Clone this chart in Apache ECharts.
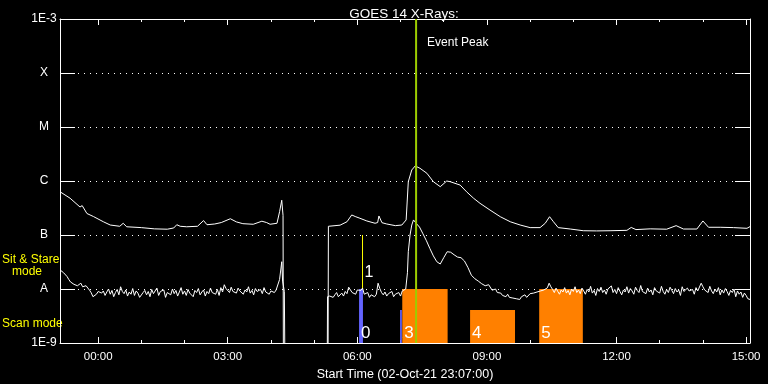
<!DOCTYPE html>
<html><head><meta charset="utf-8">
<style>html,body{margin:0;padding:0;background:#000;}#c{width:768px;height:384px;}</style>
<script src="https://cdn.jsdelivr.net/npm/echarts@6/dist/echarts.min.js"></script>
</head><body><div id="c"></div>
<script>
// ---- axis definitions (hours relative to 03-Oct-21 00:00; start 02-Oct-21 23:07) ----
const xMin = -0.8833, xMax = 15.09;
const xMajorHours = [0, 3, 6, 9, 12, 15];
const xMinorHours = [0, 1, 2, 3, 4, 5, 6, 7, 8, 9, 10, 11, 12, 13, 14, 15];
const yLevelLabels = ['1E-9', 'A', 'B', 'C', 'M', 'X', '1E-3']; // exponents -9 .. -3
const yMin = 1e-9, yMax = 1e-3;

// ---- GOES long channel (upper curve): [hour, flux W/m^2] ----
const upperChannel = [
  [-0.88,6.3e-7],[-0.65,4.8e-7],[-0.42,3.3e-7],[-0.37,3.5e-7],[-0.26,2.5e-7],[-0.11,2.2e-7],
  [0.12,1.76e-7],[0.28,1.53e-7],[0.5,1.45e-7],[0.58,1.65e-7],[0.66,1.42e-7],[1.0,1.37e-7],
  [1.3,1.3e-7],[1.6,1.28e-7],[1.75,1.35e-7],[1.82,1.55e-7],[1.9,1.45e-7],[2.05,1.42e-7],
  [2.3,1.45e-7],[2.44,1.85e-7],[2.52,1.55e-7],[2.7,1.6e-7],[2.85,1.7e-7],[3.06,2.0e-7],
  [3.2,1.75e-7],[3.35,1.62e-7],[3.59,1.58e-7],[3.79,1.8e-7],[3.9,1.7e-7],[3.98,1.58e-7],
  [4.14,1.65e-7],[4.2,2.7e-7],[4.25,4.4e-7],[4.28,2.3e-7],[4.29,1e-10],
  [5.32,1e-10],[5.33,1.45e-7],[5.6,1.52e-7],[5.76,1.76e-7],[5.87,2.35e-7],[5.95,2.2e-7],
  [6.06,2.04e-7],[6.22,1.82e-7],[6.41,1.65e-7],[6.47,1.7e-7],[6.5,2.25e-7],[6.57,1.69e-7],
  [6.68,1.6e-7],[6.88,1.49e-7],[7.03,1.53e-7],[7.13,1.9e-7],[7.18,9.7e-7],[7.26,1.6e-6],
  [7.34,1.9e-6],[7.45,1.72e-6],[7.61,1.39e-6],[7.76,9.7e-7],[7.92,7.85e-7],[8.07,1.0e-6],
  [8.15,9.7e-7],[8.38,8.4e-7],[8.53,6.3e-7],[8.69,4.8e-7],[8.84,3.86e-7],[9.07,2.9e-7],
  [9.31,2.18e-7],[9.54,1.76e-7],[9.77,1.53e-7],[10.0,1.37e-7],[10.23,1.37e-7],[10.35,1.65e-7],
  [10.45,2.18e-7],[10.54,1.76e-7],[10.65,1.37e-7],[10.93,1.29e-7],[11.23,1.2e-7],[11.54,1.19e-7],
  [11.85,1.2e-7],[12.24,1.22e-7],[12.34,1.38e-7],[12.45,1.26e-7],[12.78,1.3e-7],[13.16,1.28e-7],
  [13.38,1.49e-7],[13.55,1.29e-7],[13.86,1.29e-7],[14.0,1.82e-7],[14.13,1.39e-7],[14.4,1.39e-7],
  [14.71,1.37e-7],[15.02,1.33e-7],[15.09,1.43e-7]
];

// ---- GOES short channel (lower curve), values in units of 1e-8 W/m^2 ----
const lowerUnit = 1e-8;
const lowerStep = 0.04;
const lowerSeg1Start = -0.88;
const lowerSeg1 = [
  2.25,2.1,2.0,1.85,1.7,1.5,1.35,1.28,1.22,1.18,1.15,1.2,1.28,1.1,1.05,1.15,1.12,0.95,0.85,0.72,0.68,0.80,0.90,0.84,
  0.84,0.92,0.76,0.88,1.00,0.80,0.94,0.72,0.86,0.98,
  0.78,1.10,0.90,0.82,0.96,0.74,0.88,0.80,1.02,0.76,
  0.92,0.84,0.70,0.66,0.86,0.94,0.78,0.90,0.72,0.98,
  0.82,0.88,1.04,0.76,0.90,0.84,0.96,0.70,0.86,0.92,
  0.78,1.00,0.82,0.94,0.74,0.88,1.06,0.80,0.92,0.76,
  0.98,0.84,0.90,0.72,0.94,0.86,1.02,0.78,0.88,0.96,
  0.74,0.90,0.82,1.04,0.86,0.92,0.80,0.98,0.76,1.06,
  0.88,1.20,1.02,0.94,0.86,1.08,0.90,0.98,0.84,1.04,
  0.92,1.00,0.80,0.96,0.88,1.10,0.84,0.94,0.78,1.02,
  0.90,0.86,0.98,0.82,1.06,0.88,0.94,0.80,0.92,1.00,
  0.86,0.96,0.90
];
const lowerSpike = [[4.20,1.5],[4.25,3.2],[4.27,1.4],[4.31,0.9]];
const lowerGap = [4.33, 5.30];
const gapFlux = 1e-10;
const lowerSeg2Lead = [[5.31,0.72]];
const lowerSeg2aStart = 5.36;
const lowerSeg2a = [
  0.74,0.80,0.70,0.78,0.86,0.72,0.76,0.84,0.74,
  0.90,0.82,1.08,0.96,0.86,
  0.92,0.80,0.96,1.02,0.94,1.04,
  0.80,0.74,0.86,0.70,0.78,0.84,0.72,0.80,
  1.28,1.02,0.86,
  0.78,0.88,0.74,0.82,0.76,0.90,0.72,0.80,0.78,0.86,0.74,0.92,0.88
];
const lowerFlare = [
  [7.12,1.0],[7.16,2.0],[7.18,4.9],[7.22,10.0],[7.26,15.3],[7.30,19.0],[7.36,16.5],[7.44,14.0],
  [7.52,10.5],[7.60,7.8],[7.68,5.6],[7.76,4.1],[7.84,3.2],[7.92,2.9],[8.00,3.8],[8.08,4.9],
  [8.16,4.8],[8.24,4.3],[8.32,3.9],[8.40,3.8],[8.48,3.3],[8.56,2.5],[8.64,1.8],[8.72,1.55],
  [8.80,1.4],[8.88,1.25],[8.96,1.15],[9.04,1.2],[9.12,0.95],[9.20,1.0]
];
const lowerSeg2cStart = 9.24;
const lowerSeg2c = [
  0.86,0.80,0.84,0.76,0.78,0.72,0.80,0.70,0.74,0.68,0.72,0.66,0.70,0.64,
  0.72,0.68,0.78,0.70,0.74,0.82,0.76,0.84,0.80,0.88,0.84,0.92,0.86,0.96,0.90,
  1.05,1.28,1.10,
  0.98,0.86,1.04,0.90,0.80,0.96,0.88,1.06,0.84,0.94,
  0.78,1.00,0.90,1.10,0.86,0.96,0.82,1.04,0.92,0.80,
  0.98,0.88,1.12,0.84,0.94,0.76,1.02,0.90,1.08,0.86,
  0.96,0.80,1.00,0.92,1.14,0.86,0.98,0.82,1.06,0.90,
  0.78,0.96,0.88,1.10,0.84,1.02,0.92,0.80,1.08,0.94,
  0.86,1.16,0.90,0.98,0.82,1.04,0.88,0.96,0.78,1.06,
  0.92,1.00,0.84,1.12,0.90,0.80,0.98,0.86,1.08,0.94,
  0.82,1.02,0.88,0.96,0.76,1.10,0.90,0.84,1.04,0.92,
  0.86,0.98,0.80,1.06,0.92,1.00,1.28,1.10,0.96,1.04,
  0.86,1.12,0.92,0.82,1.00,0.88,1.06,0.78,0.96,0.84,
  1.02,0.90,0.76,0.94,0.86,1.00,0.72,0.92,0.80,0.88,
  0.70,0.84,0.76,0.66
];
const lowerTail = [[15.09,0.64]];

// ---- observation blocks ----
const obsStart = [6.04, 6.99, 7.04, 8.61, 10.21];
const obsEnd   = [6.13, 7.03, 8.09, 9.65, 11.22];
const obsTop   = [1e-8, 4.1e-9, 1e-8, 4.1e-9, 1e-8];
const obsLabel = ['0', '2', '3', '4', '5'];
const obsColor = ['#6464ff', '#6464ff', '#ff8000', '#ff8000', '#ff8000'];

// sit & stare marker "1"
const markHour = [6.12];
const markLow = [1e-8];
const markHigh = [1e-7];
const markLabel = ['1'];

// event peak
const eventPeakHour = [7.36];

// ---- build data ----
const lower = [];
const pushSeg = (start, vals) => vals.forEach((v, i) => lower.push([start + i * lowerStep, v * lowerUnit]));
const pushPairs = arr => arr.forEach(p => lower.push([p[0], p[1] * lowerUnit]));
pushSeg(lowerSeg1Start, lowerSeg1);
pushPairs(lowerSpike);
lower.push([lowerGap[0], gapFlux], [lowerGap[1], gapFlux]);
pushPairs(lowerSeg2Lead);
pushSeg(lowerSeg2aStart, lowerSeg2a);
pushPairs(lowerFlare);
pushSeg(lowerSeg2cStart, lowerSeg2c);
pushPairs(lowerTail);

const obsData = obsStart.map((s, i) => [s, obsEnd[i], obsTop[i]]);
const markData = markHour.map((h, i) => [h, markLow[i], markHigh[i]]);

const FONT = 'Liberation Sans';
const pad2 = n => (n < 10 ? '0' : '') + n;

const xBase = {
  type: 'value', min: xMin, max: xMax, gridIndex: 0,
  splitLine: { show: false }, axisPointer: { show: false }
};

const chart = echarts.init(document.getElementById('c'), null, { renderer: 'canvas' });
chart.setOption({
  backgroundColor: '#000',
  animation: false,
  title: {
    text: 'GOES 14 X-Rays:', left: 399, top: 2, textAlign: 'center',
    textStyle: { color: '#fff', fontFamily: FONT, fontSize: 13.5, fontWeight: 'normal' }
  },
  grid: { left: 60, right: 18, top: 19, bottom: 41, containLabel: false, outerBoundsMode: 'none' },
  xAxis: [
    Object.assign({}, xBase, {
      position: 'bottom',
      axisLine: { show: true, onZero: false, lineStyle: { color: '#fff', width: 1 } },
      axisTick: { show: true, inside: true, length: 6, customValues: xMajorHours, lineStyle: { color: '#fff' } },
      axisLabel: { show: true, customValues: xMajorHours, color: '#fff', fontFamily: FONT, fontSize: 11.5, margin: 8,
        formatter: v => pad2(Math.round(v)) + ':00' },
      name: 'Start Time (02-Oct-21 23:07:00)', nameLocation: 'middle', nameGap: 20,
      nameTextStyle: { color: '#fff', fontFamily: FONT, fontSize: 12.5 }
    }),
    Object.assign({}, xBase, {
      position: 'bottom',
      axisLine: { show: false, onZero: false },
      axisTick: { show: true, inside: true, length: 3, customValues: xMinorHours, lineStyle: { color: '#fff' } },
      axisLabel: { show: false }
    }),
    Object.assign({}, xBase, {
      position: 'top',
      axisLine: { show: true, onZero: false, lineStyle: { color: '#fff', width: 1 } },
      axisTick: { show: true, inside: true, length: 6, customValues: xMajorHours, lineStyle: { color: '#fff' } },
      axisLabel: { show: false }
    }),
    Object.assign({}, xBase, {
      position: 'top',
      axisLine: { show: false, onZero: false },
      axisTick: { show: true, inside: true, length: 3, customValues: xMinorHours, lineStyle: { color: '#fff' } },
      axisLabel: { show: false }
    })
  ],
  yAxis: [
    {
      type: 'log', logBase: 10, min: yMin, max: yMax, splitNumber: 6, position: 'left',
      axisLine: { show: true, onZero: false, lineStyle: { color: '#fff', width: 1 } },
      axisTick: { show: true, inside: true, length: 15, lineStyle: { color: '#fff' } },
      minorTick: { show: false },
      axisLabel: { color: '#fff', fontFamily: FONT, fontSize: 12, margin: 16, align: 'center',
        formatter: v => yLevelLabels[Math.round(Math.log10(v)) + 9] },
      splitLine: { show: true, lineStyle: { color: '#fff', width: 1, type: [1, 5] } }
    },
    {
      type: 'log', logBase: 10, min: yMin, max: yMax, splitNumber: 6, position: 'right',
      axisLine: { show: true, onZero: false, lineStyle: { color: '#fff', width: 1 } },
      axisTick: { show: true, inside: true, length: 15, lineStyle: { color: '#fff' } },
      axisLabel: { show: false },
      splitLine: { show: false }
    }
  ],
  graphic: [
    { type: 'text', left: 2, top: 254, style: { text: 'Sit & Stare', fill: '#ffff00', font: '12px ' + FONT } },
    { type: 'text', left: 12, top: 266, style: { text: 'mode', fill: '#ffff00', font: '12px ' + FONT } },
    { type: 'text', left: 2, top: 318, style: { text: 'Scan mode', fill: '#ffff00', font: '12px ' + FONT } }
  ],
  series: [
    {
      type: 'custom', xAxisIndex: 0, yAxisIndex: 0, z: 1, clip: true,
      data: obsData,
      renderItem: (params, api) => {
        const i = params.dataIndex;
        const p0 = api.coord([api.value(0), api.value(2)]);
        const p1 = api.coord([api.value(1), yMin]);
        return {
          type: 'group', children: [
            { type: 'rect', shape: { x: p0[0], y: p0[1], width: p1[0] - p0[0], height: p1[1] - p0[1] },
              style: { fill: obsColor[i] } },
            { type: 'text', style: { text: obsLabel[i], x: p0[0] + 2, y: p1[1] - 1, verticalAlign: 'bottom',
              fill: '#fff', font: '17px ' + FONT } }
          ]
        };
      }
    },
    {
      type: 'custom', xAxisIndex: 0, yAxisIndex: 0, z: 1, clip: true,
      data: markData,
      renderItem: (params, api) => {
        const i = params.dataIndex;
        const a = api.coord([api.value(0), api.value(1)]);
        const b = api.coord([api.value(0), api.value(2)]);
        return {
          type: 'group', children: [
            { type: 'line', shape: { x1: a[0], y1: a[1], x2: b[0], y2: b[1] },
              style: { stroke: '#ffff00', lineWidth: 1 } },
            { type: 'text', style: { text: markLabel[i], x: a[0] + 2, y: (a[1] + b[1]) / 2 + 3, verticalAlign: 'top',
              fill: '#fff', font: '16px ' + FONT } }
          ]
        };
      }
    },
    {
      type: 'line', xAxisIndex: 0, yAxisIndex: 0, z: 2, data: upperChannel, showSymbol: false,
      symbol: 'none', lineStyle: { color: '#fff', width: 1 }, clip: true
    },
    {
      type: 'line', xAxisIndex: 0, yAxisIndex: 0, z: 2, data: lower, showSymbol: false,
      symbol: 'none', lineStyle: { color: '#fff', width: 1 }, clip: true
    },
    {
      type: 'custom', xAxisIndex: 0, yAxisIndex: 0, z: 3, clip: false,
      data: eventPeakHour.map(h => [h]),
      renderItem: (params, api) => {
        const top = api.coord([api.value(0), yMax]);
        const bot = api.coord([api.value(0), yMin]);
        return {
          type: 'group', children: [
            { type: 'line', shape: { x1: top[0], y1: top[1], x2: bot[0], y2: bot[1] },
              style: { stroke: '#9ccc00', lineWidth: 2 } },
            { type: 'text', style: { text: 'Event Peak', x: top[0] + 11, y: top[1] + 24, verticalAlign: 'middle',
              fill: '#fff', font: '12px ' + FONT } }
          ]
        };
      }
    }
  ]
});
</script></body></html>
